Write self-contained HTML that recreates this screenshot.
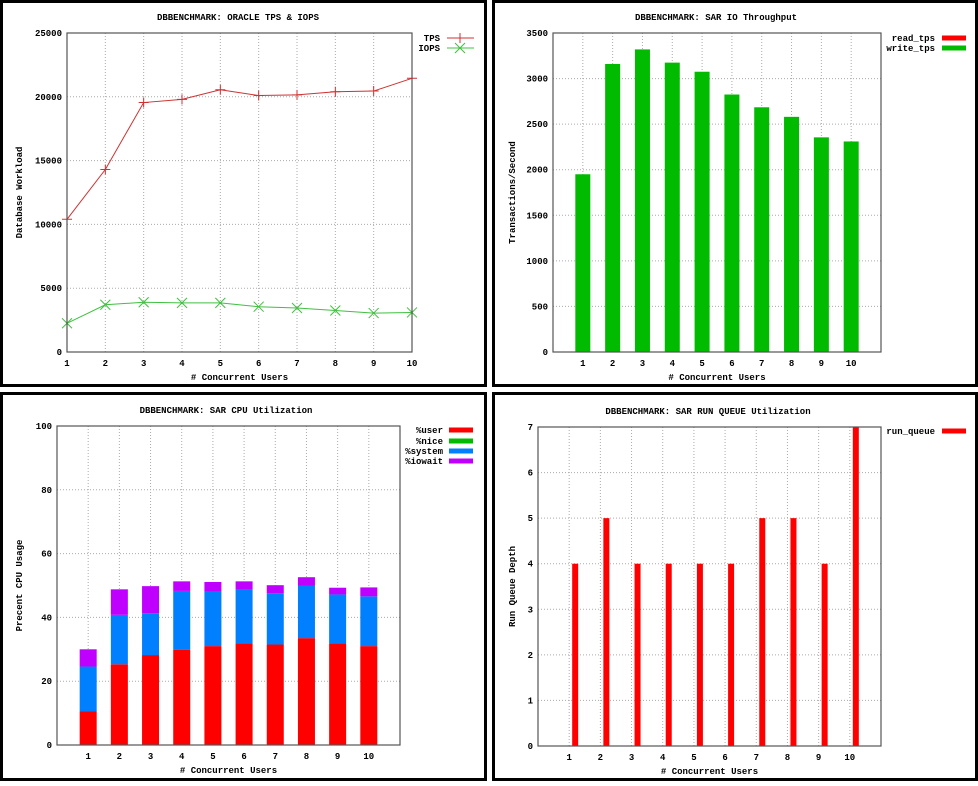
<!DOCTYPE html>
<html><head><meta charset="utf-8"><style>
body{margin:0;background:#fff;width:978px;height:781px;overflow:hidden}
svg text{font-family:"Liberation Mono",monospace;font-weight:bold;font-size:9px;fill:#000}
</style></head><body>
<svg id="s" width="978" height="781">
<rect x="1.5" y="1.5" width="484" height="384" fill="none" stroke="#000" stroke-width="3"/>
<rect x="493.5" y="1.5" width="483" height="384" fill="none" stroke="#000" stroke-width="3"/>
<rect x="1.5" y="393.5" width="484" height="386" fill="none" stroke="#000" stroke-width="3"/>
<rect x="493.5" y="393.5" width="483" height="386" fill="none" stroke="#000" stroke-width="3"/>
</svg>
<script>
const users=[1,2,3,4,5,6,7,8,9,10];
const tps=[10400,14300,19550,19800,20550,20100,20150,20400,20450,21450];
const iops=[2250,3700,3900,3850,3850,3550,3450,3250,3050,3100];
const tpsTicks=[0,5000,10000,15000,20000,25000];
const writeTps=[1950,3160,3320,3175,3075,2825,2685,2580,2355,2310];
const readTps=[0,0,0,0,0,0,0,0,0,0];
const ioTicks=[0,500,1000,1500,2000,2500,3000,3500];
const cpuUser=[10.5,25.3,28.2,29.8,31,31.8,31.5,33.5,31.8,31];
const cpuNice=[0,0,0,0,0,0,0,0,0,0];
const cpuSystem=[14.1,15.5,13.1,18.5,17.1,17.1,16.1,16.5,15.4,15.6];
const cpuIowait=[5.4,8,8.5,3,3,2.4,2.5,2.6,2.1,2.8];
const cpuTicks=[0,20,40,60,80,100];
const runQueue=[4,5,4,4,4,4,5,5,4,7];
const rqTicks=[0,1,2,3,4,5,6,7];

const NS="http://www.w3.org/2000/svg";
const svg=document.getElementById('s');
function mk(tag,at,txt){const e=document.createElementNS(NS,tag);for(const k in at)e.setAttribute(k,at[k]);if(txt!=null)e.textContent=txt;svg.appendChild(e);return e;}

function axes(p){
  // p: x0,x1,y0,y1,xmin,xmax,ymax,yTicks,title,ylabel,tx,ty
  const sx=v=>p.x0+(v-p.xmin)/(p.xmax-p.xmin)*(p.x1-p.x0);
  const sy=v=>p.y1-v/p.ymax*(p.y1-p.y0);
  p.yTicks.forEach(t=>{
    const y=sy(t);
    if(t>0&&t<p.ymax){const g=mk('line',{x1:p.x0,x2:p.x1,y1:y,y2:y,stroke:'#aaa','stroke-dasharray':'1,2'});
    
    }
    const l=mk('text',{x:p.x0-5,y:y+3,'text-anchor':'end'},t);
    
    
  });
  users.forEach(u=>{
    const x=sx(u);
    if(x>p.x0+1&&x<p.x1-1){const g=mk('line',{x1:x,x2:x,y1:p.y0,y2:p.y1,stroke:'#aaa','stroke-dasharray':'1,2'});
    
    }
    const l=mk('text',{x:x,y:p.y1+14,'text-anchor':'middle'},u);
    
    
  });
  const t=mk('text',{x:p.tx,y:p.ty,'text-anchor':'middle'},p.title);
  
  
  const xl=mk('text',{x:(p.x0+p.x1)/2,y:p.y1+28,'text-anchor':'middle'},'# Concurrent Users');
  
  
  const yc=(p.y0+p.y1)/2;
  const yl=mk('text',{x:p.ylx,y:yc,'text-anchor':'middle',transform:`rotate(-90 ${p.ylx} ${yc})`},p.ylabel);
  
  
  return {sx,sy};
}
function frame(p){const r=mk('rect',{x:p.x0,y:p.y0,width:p.x1-p.x0,height:p.y1-p.y0,fill:'none',stroke:'#555','stroke-width':1.2});

}
function legendSwatch(tx,y,label,color,sw){
  const t=mk('text',{x:tx,y:y+3,'text-anchor':'end'},label);
  
  
  const r=mk('rect',{x:sw,y:y-2.5,width:24,height:5,fill:color});
  
  
}

// Chart 1
{
const p={x0:67,x1:412,y0:33,y1:352,xmin:1,xmax:10,ymax:25000,yTicks:tpsTicks,title:'DBBENCHMARK: ORACLE TPS & IOPS',ylabel:'Database Workload',tx:238,ty:20,ylx:22};
const {sx,sy}=axes(p);
const series=[[tps,'#d03030','plus','tps'],[iops,'#40c040','cross','iops']];
series.forEach(([d,c,m,n])=>{
  const pl=mk('polyline',{points:d.map((v,i)=>sx(users[i])+','+sy(v)).join(' '),fill:'none',stroke:c,'stroke-width':1});
  
  
  d.forEach((v,i)=>{
    const x=sx(users[i]),y=sy(v);
    const path=m==='plus'?`M${x-5} ${y}H${x+5}M${x} ${y-5}V${y+5}`:`M${x-5} ${y-5}L${x+5} ${y+5}M${x-5} ${y+5}L${x+5} ${y-5}`;
    const pt=mk('path',{d:path,stroke:c,'stroke-width':1,fill:'none'});
    
    
  });
});
frame(p);
[['TPS',38,'#d03030','plus'],['IOPS',48,'#40c040','cross']].forEach(([l,y,c,m])=>{
  const t=mk('text',{x:440,y:y+3,'text-anchor':'end'},l);
  
  
  const x=460;
  const path=`M447 ${y}H474`+(m==='plus'?`M${x} ${y-5}V${y+5}`:`M${x-5} ${y-5}L${x+5} ${y+5}M${x-5} ${y+5}L${x+5} ${y-5}`);
  const pe=mk('path',{d:path,stroke:c,'stroke-width':1,fill:'none'});
  
  
});
}

// Chart 2
{
const p={x0:553,x1:881,y0:33,y1:352,xmin:0,xmax:11,ymax:3500,yTicks:ioTicks,title:'DBBENCHMARK: SAR IO Throughput',ylabel:'Transactions/Second',tx:716,ty:20,ylx:515};
const {sx,sy}=axes(p);
writeTps.forEach((v,i)=>{
  const x=sx(users[i]);
  const r=mk('rect',{x:x-7.5,y:sy(v+readTps[i]),width:15,height:sy(0)-sy(v),fill:'#00bb00'});
  
  
});
frame(p);
legendSwatch(935,38,'read_tps','#ff0000',942);
legendSwatch(935,48,'write_tps','#00bb00',942);
}

// Chart 3
{
const p={x0:57,x1:400,y0:426,y1:745,xmin:0,xmax:11,ymax:100,yTicks:cpuTicks,title:'DBBENCHMARK: SAR CPU Utilization',ylabel:'Precent CPU Usage',tx:226,ty:413,ylx:22};
const {sx,sy}=axes(p);
const stacks=[[cpuUser,'#ff0000','cpu-user-bar'],[cpuNice,'#00bb00','cpu-nice-bar'],[cpuSystem,'#0080ff','cpu-system-bar'],[cpuIowait,'#c000ff','cpu-iowait-bar']];
users.forEach((u,i)=>{
  let base=0;
  const x=sx(u);
  stacks.forEach(([d,c,n])=>{
    const v=d[i];
    if(v>0){const r=mk('rect',{x:x-8.5,y:sy(base+v),width:17,height:sy(base)-sy(base+v),fill:c});
    
    }
    base+=v;
  });
});
frame(p);
legendSwatch(443,430,'%user','#ff0000',449);
legendSwatch(443,441,'%nice','#00bb00',449);
legendSwatch(443,451,'%system','#0080ff',449);
legendSwatch(443,461,'%iowait','#c000ff',449);
}

// Chart 4
{
const p={x0:538,x1:881,y0:427,y1:746,xmin:0,xmax:11,ymax:7,yTicks:rqTicks,title:'DBBENCHMARK: SAR RUN QUEUE Utilization',ylabel:'Run Queue Depth',tx:708,ty:414,ylx:515};
const {sx,sy}=axes(p);
runQueue.forEach((v,i)=>{
  const x=sx(users[i]);
  const r=mk('rect',{x:x+3,y:sy(v),width:6,height:sy(0)-sy(v),fill:'#ff0000'});
  
  
});
frame(p);
legendSwatch(935,431,'run_queue','#ff0000',942);
}
</script>
</body></html>
